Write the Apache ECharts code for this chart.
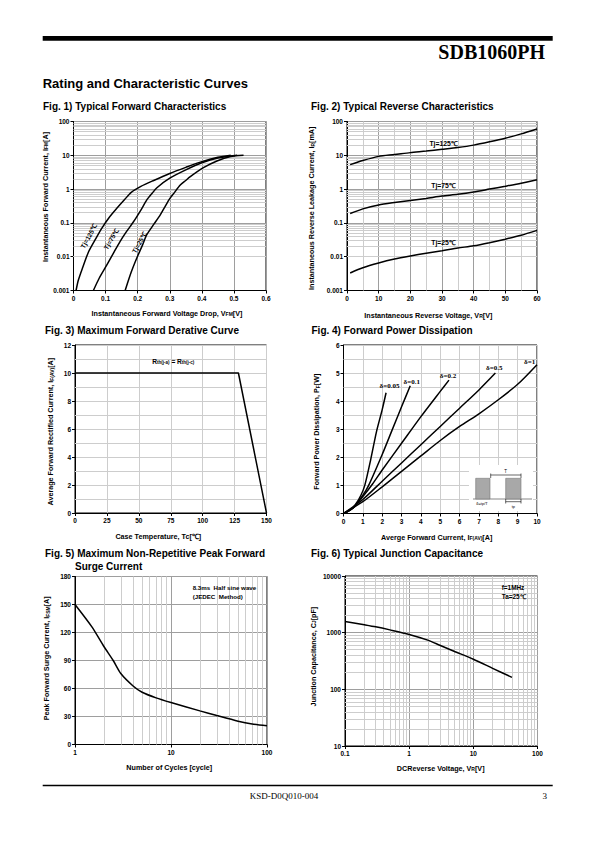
<!DOCTYPE html>
<html><head><meta charset="utf-8">
<script src="https://cdn.jsdelivr.net/npm/echarts@6/dist/echarts.min.js"></script>
<style>html,body{margin:0;padding:0;background:#fff}#c{width:595px;height:842px}</style>
</head><body><div id="c"></div>
<script>
// ---------- DATA ----------
// Fig.1 Typical Forward Characteristics (VF [V], IF [A])
const f1_vf_125 = [0.008,0.015,0.028,0.047,0.07,0.088,0.11,0.135,0.16,0.18,0.21,0.25,0.3,0.35,0.4,0.45,0.49];
const f1_if_125 = [0.001,0.002,0.0046,0.014,0.035,0.069,0.14,0.27,0.5,0.8,1.2,1.8,2.9,4.4,6.5,8.7,10];
const f1_vf_75  = [0.062,0.08,0.104,0.125,0.145,0.165,0.187,0.21,0.228,0.245,0.26,0.3,0.35,0.4,0.45,0.51];
const f1_if_75  = [0.001,0.0023,0.0057,0.013,0.028,0.055,0.108,0.24,0.47,0.75,1.1,2.1,3.7,6,8.3,10];
const f1_vf_25  = [0.161,0.18,0.197,0.215,0.228,0.25,0.27,0.285,0.3,0.315,0.332,0.35,0.363,0.405,0.447,0.49,0.53];
const f1_if_25  = [0.001,0.0035,0.009,0.022,0.044,0.09,0.17,0.3,0.52,0.8,1.3,1.8,2.3,4.3,6.8,9.2,10];
// Fig.2 Typical Reverse Characteristics (VR [V], IR [mA])
const f2_vr     = [1,5,10,15,20,25,30,35,40,45,50,55,60];
const f2_ir_125 = [5.3,7,9.3,10.5,12,13.3,15,17,20,25,32,43,60];
const f2_ir_75  = [0.19,0.26,0.34,0.4,0.46,0.53,0.62,0.7,0.82,1.0,1.22,1.5,1.9];
const f2_ir_25  = [0.0033,0.0047,0.0065,0.0085,0.0105,0.0127,0.015,0.018,0.021,0.026,0.033,0.043,0.06];
// Fig.3 Maximum Forward Derating Curve (Tc, IF(AV))
const f3_tc = [0,128,150];
const f3_if = [10,10,0];
// Fig.4 Forward Power Dissipation (IF(AV), PF) per duty
const f4_i_005 = [0,0.3,0.6,0.9,1.1,1.4,1.7,2.0,2.2];
const f4_p_005 = [0,0.1,0.3,0.65,1.0,1.9,2.9,3.7,4.3];
const f4_i_01  = [0,0.5,1.0,1.3,2.0,2.5,3.0,3.45];
const f4_p_01  = [0,0.2,0.65,1.0,2.1,2.95,3.8,4.55];
const f4_i_02  = [0,0.5,1,1.5,2,3,4,5,5.45];
const f4_p_02  = [0,0.2,0.6,1.05,1.55,2.5,3.45,4.35,4.75];
const f4_i_05  = [0,1,2,3,4,5,6,7,7.85];
const f4_p_05  = [0,0.5,1.15,1.8,2.45,3.1,3.75,4.4,5.0];
const f4_i_1   = [0,1,2,3,4,5,6,7,8,9,10];
const f4_p_1   = [0,0.42,0.95,1.5,2.05,2.6,3.1,3.55,4.05,4.6,5.3];
// Fig.5 Surge current vs cycles
const f5_n   = [1,1.5,2,2.5,3,4,5,7,10,20,30,50,70,100];
const f5_ifs = [150,126,105,90,76,63,56,50,45,36,31,25,22,20];
// Fig.6 Junction capacitance
const f6_vr = [0.1,0.2,0.3,0.5,1,2,3,5,10,20,40];
const f6_cj = [1580,1380,1270,1120,930,730,600,470,340,235,163];
// Tick labels
const f1_xticks = ['0','0.1','0.2','0.3','0.4','0.5','0.6'];
const f3_xticks = ['0','25','50','75','100','125','150'];

// ---------- HELPERS ----------
const SANS = "'Liberation Sans', Arial, sans-serif";
const SERIF = "'Liberation Serif', 'Times New Roman', serif";
const zip = (a,b) => a.map((v,i)=>[v,b[i]]);
const MAJ = '#9e9e9e', MIN = '#cdcdcd';
const logFmt = v => String(+(+v).toPrecision(3));

function decadeMinors(lo, hi){ // 2..9 x 10^k
  const out=[]; for(let d=lo; d<hi; d*=10){ for(let k=2;k<=9;k++) out.push(+(k*d).toPrecision(3)); } return out;
}
function range(a,b,s){ const o=[]; for(let v=a; v<=b+1e-9; v+=s) o.push(+v.toFixed(4)); return o; }

const LBL = {fontFamily:SANS,fontWeight:'bold',fontSize:6.5,color:'#000',margin:4};
function ax(i, o){ return Object.assign({
  gridIndex:i, type:'value',
  axisLine:{show:true,onZero:false,lineStyle:{color:'#000',width:1}},
  axisTick:{show:true,length:3,inside:false,lineStyle:{color:'#000'}},
  axisLabel:Object.assign({},LBL),
  splitLine:{show:true,lineStyle:{color:MAJ,width:1}}
}, o); }
function gridSeries(i, xs, ys, color){
  return { type:'line', xAxisIndex:i, yAxisIndex:i, data:[], silent:true, z:1,
    markLine:{ silent:true, z:1, symbol:['none','none'], animation:false, label:{show:false},
      lineStyle:{color:color||MIN, width:1, type:'solid'}, emphasis:{disabled:true},
      data:[...xs.map(v=>({xAxis:v})), ...ys.map(v=>({yAxis:v}))] } };
}
function curve(i, data, smooth){
  return { type:'line', xAxisIndex:i, yAxisIndex:i, data, showSymbol:false, symbol:'none',
    smooth: smooth===undefined?0.25:smooth, z:3, silent:true,
    lineStyle:{color:'#000', width:1.5} };
}

const grids = [
  {left:73.5, top:121.5, width:192.5, height:169},   // fig1
  {left:347,  top:121.5, width:190,   height:169},   // fig2
  {left:75,   top:345,   width:191.5, height:168},   // fig3
  {left:343.5,top:345,   width:193.5, height:168.5}, // fig4
  {left:75,   top:576.5, width:192,   height:168},   // fig5
  {left:345,  top:576,   width:192.5, height:170}    // fig6
].map(g=>Object.assign({show:true,borderColor:'#000',borderWidth:1,backgroundColor:'rgba(0,0,0,0)',containLabel:false},g));

const option = {
  animation:false,
  grid: grids,
  xAxis: [
    ax(0,{min:0,max:0.6,interval:0.1,axisLabel:Object.assign({},LBL,{formatter:(v)=>f1_xticks[Math.round(v*10)]})}),
    ax(1,{min:0,max:60,interval:10}),
    ax(2,{min:0,max:150,interval:25,axisLabel:Object.assign({},LBL,{formatter:(v)=>f3_xticks[Math.round(v/25)]}), splitLine:{show:true,lineStyle:{color:MIN}}}),
    ax(3,{min:0,max:10,interval:1, splitLine:{show:true,lineStyle:{color:MIN}}}),
    ax(4,{type:'log',logBase:10,min:1,max:100,axisLabel:Object.assign({},LBL,{formatter:logFmt})}),
    ax(5,{type:'log',logBase:10,min:0.1,max:100,axisLabel:Object.assign({},LBL,{formatter:logFmt})})
  ],
  yAxis: [
    ax(0,{type:'log',logBase:10,min:0.001,max:100,axisLabel:Object.assign({},LBL,{formatter:logFmt})}),
    ax(1,{type:'log',logBase:10,min:0.001,max:100,axisLabel:Object.assign({},LBL,{formatter:logFmt})}),
    ax(2,{min:0,max:12,interval:2, splitLine:{show:true,lineStyle:{color:MIN}}}),
    ax(3,{min:0,max:6,interval:1, splitLine:{show:true,lineStyle:{color:MIN}}}),
    ax(4,{min:0,max:180,interval:30}),
    ax(5,{type:'log',logBase:10,min:10,max:10000,axisLabel:Object.assign({},LBL,{formatter:logFmt})})
  ],
  series: [
    gridSeries(0, [], decadeMinors(0.001,100)),
    gridSeries(1, range(5,55,10), decadeMinors(0.001,100)),
    gridSeries(2, [], range(1,11,2)),
    gridSeries(3, [], range(0.5,5.5,1)),
    gridSeries(4, decadeMinors(1,100), []),
    gridSeries(5, decadeMinors(0.1,100), decadeMinors(10,10000)),
    curve(0, zip(f1_vf_125,f1_if_125)),
    curve(0, zip(f1_vf_75,f1_if_75)),
    curve(0, zip(f1_vf_25,f1_if_25)),
    curve(1, zip(f2_vr,f2_ir_125)),
    curve(1, zip(f2_vr,f2_ir_75)),
    curve(1, zip(f2_vr,f2_ir_25)),
    curve(2, zip(f3_tc,f3_if), false),
    curve(3, zip(f4_i_005,f4_p_005)),
    curve(3, zip(f4_i_01,f4_p_01)),
    curve(3, zip(f4_i_02,f4_p_02)),
    curve(3, zip(f4_i_05,f4_p_05)),
    curve(3, zip(f4_i_1,f4_p_1)),
    curve(4, zip(f5_n,f5_ifs)),
    curve(5, zip(f6_vr,f6_cj))
  ]
};

const chart = echarts.init(document.getElementById('c'), null, {renderer:'svg', width:595, height:842});
chart.setOption(option);

// ---------- TEXT / DECORATION ----------
function T(x, y, text, o){
  o = o||{};
  return { type:'text', x, y, rotation:o.rot||0, z:100, silent:true,
    style:{ text, fill:'#000', fontFamily:o.ff||SANS, fontWeight:o.fw||'bold', fontSize:o.fs||7.2,
      align:o.align||'center', verticalAlign:o.va||'middle', rich:o.rich } };
}
const sub = (fs, ff) => ({ s:{fontSize:fs||5, fontFamily:ff||SANS, fontWeight:'bold', verticalAlign:'bottom', padding:[2,0,0,0]} });
const P = (g, x, y) => chart.convertToPixel({gridIndex:g}, [x,y]);
const R90 = Math.PI/2;

const gfx = [];
// page header / footer
gfx.push({type:'rect', z:100, silent:true, shape:{x:42.7,y:36,width:510,height:4.7}, style:{fill:'#000'}});
gfx.push(T(545, 51.5, 'SDB1060PH', {ff:SERIF, fs:20, align:'right'}));
gfx.push(T(42.7, 83, 'Rating and Characteristic Curves', {fs:13, align:'left'}));
gfx.push({type:'rect', z:100, silent:true, shape:{x:42.7,y:784.8,width:510,height:1.5}, style:{fill:'#000'}});
gfx.push(T(284, 795.5, 'KSD-D0Q010-004', {ff:SERIF, fw:'normal', fs:9}));
gfx.push(T(547, 795.5, '3', {ff:SERIF, fw:'normal', fs:9, align:'right'}));

// figure titles
const TF = 10;
gfx.push(T(43, 106.5, 'Fig. 1) Typical Forward Characteristics', {fs:TF, align:'left'}));
gfx.push(T(311, 106.5, 'Fig. 2) Typical Reverse Characteristics', {fs:TF, align:'left'}));
gfx.push(T(45, 330, 'Fig. 3) Maximum Forward Derative Curve', {fs:TF, align:'left'}));
gfx.push(T(311.5, 330, 'Fig. 4) Forward Power Dissipation', {fs:TF, align:'left'}));
gfx.push(T(45, 553.5, 'Fig. 5) Maximum Non-Repetitive Peak Forward', {fs:TF, align:'left'}));
gfx.push(T(75, 566, 'Surge Current', {fs:TF, align:'left'}));
gfx.push(T(311, 553, 'Fig. 6) Typical Junction Capacitance', {fs:TF, align:'left'}));

// axis titles
gfx.push(T(167, 313.3, 'Instantaneous Forward Voltage Drop, V{s|FM}[V]', {rich:sub()}));
gfx.push(T(45, 197, 'Instantaneous Forward Current, I{s|FM}[A]', {rot:R90, rich:sub()}));
gfx.push(T(428.3, 315, 'Instantaneous Reverse Voltage, V{s|R}[V]', {rich:sub()}));
gfx.push(T(311.7, 208.3, 'Instantaneous Reverse Leakage Current, I{s|R}[mA]', {rot:R90, rich:sub()}));
gfx.push(T(158.3, 536.7, 'Case Temperature, Tc[℃]'));
gfx.push(T(50.7, 431.7, 'Average Forward Rectified Current, I{s|F(AV)}[A]', {rot:R90, rich:sub()}));
gfx.push(T(436.7, 537.3, 'Averge Forward Current, I{s|F(AV)}[A]', {rich:sub()}));
gfx.push(T(316.7, 431.7, 'Forward Power Dissipation, P{s|F}[W]', {rot:R90, rich:sub()}));
gfx.push(T(169.3, 767.7, 'Number of Cycles [cycle]'));
gfx.push(T(46.7, 658.3, 'Peak Forward Surge Current, I{s|FSM}[A]', {rot:R90, rich:sub()}));
gfx.push(T(440.7, 768.3, 'DCReverse Voltage, V{s|R}[V]', {rich:sub()}));
gfx.push(T(313.3, 656.7, 'Junction Capacitance, C{s|J}[pF]', {rot:R90, rich:sub()}));

// in-plot annotations (placed in data coordinates)
const A60 = 60*Math.PI/180;
[[0.047,0.04,'Tj=125℃'],[0.117,0.033,'Tj=75℃'],[0.205,0.026,'Tj=25℃']].forEach(([x,y,t])=>{
  const p=P(0,x,y); gfx.push(T(p[0],p[1],t,{rot:A60, fs:6.5}));
});
[[30.5,23,'Tj=125℃'],[30.5,1.26,'Tj=75℃'],[30.5,0.0257,'Tj=25℃']].forEach(([x,y,t])=>{
  const p=P(1,x,y); gfx.push(T(p[0],p[1],t,{fs:6.8}));
});
{ const p=P(2,77,10.8); gfx.push(T(p[0],p[1],'R{s|th(j-a)} = R{s|th(j-c)}',{fs:6.6, rich:sub(4.5)})); }
[[2.38,4.54,'δ=0.05'],[3.53,4.69,'δ=0.1'],[5.4,4.9,'δ=0.2'],[7.79,5.17,'δ=0.5'],[9.62,5.4,'δ=1']].forEach(([x,y,t])=>{
  const p=P(3,x,y); gfx.push(T(p[0],p[1],t,{ff:SERIF, fs:7, fw:'bold'}));
});
{ const p=P(4,16.8,168.5); gfx.push(T(p[0],p[1],'8.3ms  Half sine wave',{fs:6.2, align:'left'}));
  const q=P(4,16.8,158.5); gfx.push(T(q[0],q[1],'(JEDEC  Method)',{fs:6.2, align:'left'})); }
{ const p=P(5,27.7,6300); gfx.push(T(p[0],p[1],'f=1MHz',{fs:6.4, align:'left'}));
  const q=P(5,27.7,4300); gfx.push(T(q[0],q[1],'Ta=25℃',{fs:6.4, align:'left'})); }

// Fig.4 duty-cycle inset
const ins = {type:'group', z:100, silent:true, children:[
  {type:'rect', shape:{x:469,y:465,width:64,height:46}, style:{fill:'#fff'}, z:100},
  {type:'line', shape:{x1:473,y1:499,x2:532,y2:499}, style:{stroke:'#888',lineWidth:1.2}, z:101},
  {type:'rect', shape:{x:475.7,y:478.3,width:14.3,height:20.7}, style:{fill:'#a8a8a8',stroke:'#777',lineWidth:0.6}, z:101},
  {type:'rect', shape:{x:505.7,y:478.3,width:15.3,height:20.7}, style:{fill:'#a8a8a8',stroke:'#777',lineWidth:0.6}, z:101},
  {type:'line', shape:{x1:490.7,y1:475,x2:521,y2:475}, style:{stroke:'#000',lineWidth:0.6}, z:101},
  {type:'line', shape:{x1:490.7,y1:473.5,x2:490.7,y2:478}, style:{stroke:'#000',lineWidth:0.6}, z:101},
  {type:'line', shape:{x1:521,y1:473.5,x2:521,y2:478}, style:{stroke:'#000',lineWidth:0.6}, z:101},
  {type:'line', shape:{x1:505.7,y1:501.7,x2:521,y2:501.7}, style:{stroke:'#000',lineWidth:0.6}, z:101},
  {type:'line', shape:{x1:505.7,y1:499,x2:505.7,y2:503.5}, style:{stroke:'#000',lineWidth:0.6}, z:101},
  {type:'line', shape:{x1:521,y1:499,x2:521,y2:503.5}, style:{stroke:'#000',lineWidth:0.6}, z:101},
  T(505.5, 471.8, 'T', {fs:4.5, fw:'normal'}),
  T(482, 503.5, 'δ=tp/T', {fs:4, fw:'normal'}),
  T(513.3, 506.5, 'tp', {fs:4, fw:'normal'})
]};
gfx.push(ins);

chart.setOption({graphic: gfx});
</script>
</body></html>
